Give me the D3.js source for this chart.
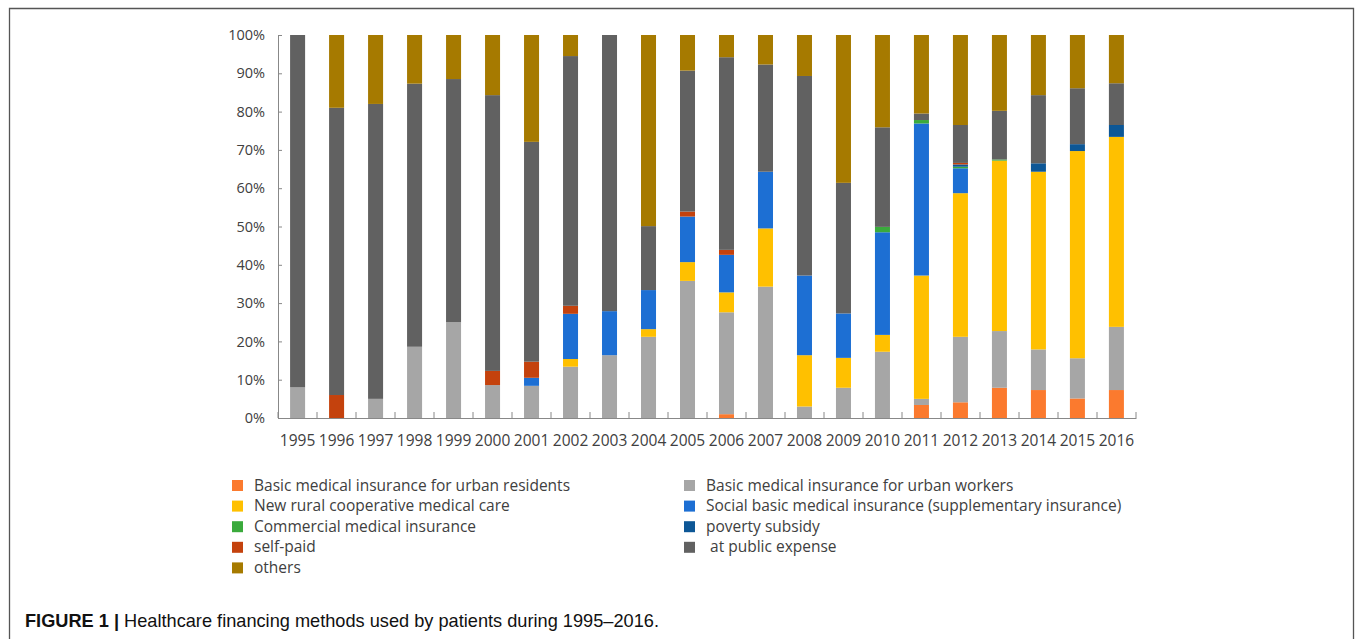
<!DOCTYPE html>
<html>
<head>
<meta charset="utf-8">
<script src="https://cdn.jsdelivr.net/npm/d3@7"></script>
<style>
  body { margin: 0; background: #fff; }
  svg { display: block; }
  .tick text { fill: #404040; }
</style>
</head>
<body>
<script>
// years along the x axis
var years = ["1995","1996","1997","1998","1999","2000","2001","2002","2003","2004","2005",
             "2006","2007","2008","2009","2010","2011","2012","2013","2014","2015","2016"];

// share of patients (%) per financing method, one value per year
var urbanResidents = [0,0,0,0,0,0,0,0,0,0,0, 1.0,0,0,0,0, 3.4,4.1,7.9,7.3,5.1,7.3];
var urbanWorkers   = [8,0,5,18.6,25,8.6,8.4,13.4,16.4,21.2,35.8, 26.6,34.3,3.0,7.9,17.3, 1.6,17.1,14.8,10.6,10.5,16.5];
var newRural       = [0,0,0,0,0,0,0,2.0,0,2.0,4.9, 5.2,15.2,13.4,7.8,4.4, 32.2,37.5,44.5,46.4,54.1,49.6];
var socialBasic    = [0,0,0,0,0,0,2.1,11.8,11.5,10.2,11.9, 9.8,14.8,20.8,11.6,26.8, 39.7,6.5,0,0,0,0];
var commercial     = [0,0,0,0,0,0,0,0,0,0,0, 0,0,0,0,1.4, 0.9,0.4,0.3,0,0,0];
var povertySubsidy = [0,0,0,0,0,0,0,0,0,0,0, 0,0,0,0,0, 0,0.6,0,2.2,1.8,3.1];
var selfPaid       = [0,6,0,0,0,3.7,4.2,2.1,0,0,1.3, 1.3,0,0,0,0, 0,0.4,0,0,0,0];
var publicExpense  = [92,75,77,68.7,63.5,72,57.4,65.2,72.1,16.7,36.8, 50.3,28.0,52.1,34.1,26.0, 1.7,9.9,12.7,17.8,14.6,10.9];
var others         = [0,19,18,12.7,11.5,15.7,27.9,5.5,0,49.9,9.3, 5.8,7.7,10.7,38.6,24.1, 20.5,23.5,19.8,15.7,13.9,12.6];

var seriesNames = ["Basic medical insurance for urban residents",
                   "Basic medical insurance for urban workers",
                   "New rural cooperative medical care",
                   "Social basic medical insurance (supplementary insurance)",
                   "Commercial medical insurance",
                   "poverty subsidy",
                   "self-paid",
                   " at public expense",
                   "others"];
var seriesValues = [urbanResidents, urbanWorkers, newRural, socialBasic, commercial,
                    povertySubsidy, selfPaid, publicExpense, others];
var seriesColors = ["#FB7A2E","#A6A6A6","#FFC000","#1D6FD3","#3AAA3C",
                    "#0D5796","#C4420D","#616161","#A67A00"];

var yTicks = [0,10,20,30,40,50,60,70,80,90,100];

// build rows for d3.stack
var rows = years.map(function(y, i){
	var r = {year: y};
	seriesNames.forEach(function(n, k){ r[n] = seriesValues[k][i]; });
	return r;
});

var width = 1357, height = 639;
var svg = d3.select("body").append("svg")
	.attr("width", width)
	.attr("height", height);

// figure frame (open at the bottom)
svg.append("path")
	.attr("d", "M9.5,650 V8.5 H1353.5 V650")
	.attr("fill", "none")
	.attr("stroke", "#555")
	.attr("stroke-width", 1.3);

var x = d3.scaleBand()
	.domain(years)
	.range([278, 1136])
	.paddingInner(0.615)
	.paddingOuter(0.31);

var y = d3.scaleLinear()
	.domain([0, 100])
	.range([418, 35]);

var stack = d3.stack().keys(seriesNames);
var layers = stack(rows);

var color = d3.scaleOrdinal().domain(seriesNames).range(seriesColors);

svg.selectAll(".layer")
	.data(layers)
	.enter()
	.append("g")
	.attr("class", "layer")
	.attr("fill", function(d){ return color(d.key); })
	.selectAll("rect")
	.data(function(d){ return d; })
	.enter()
	.append("rect")
	.attr("x", function(d){ return x(d.data.year); })
	.attr("width", x.bandwidth())
	.attr("y", function(d){ return y(d[1]); })
	.attr("height", function(d){ return y(d[0]) - y(d[1]); });

// y axis
var yAxis = svg.append("g")
	.attr("transform", "translate(278,0)")
	.call(d3.axisLeft(y)
		.tickValues(yTicks)
		.tickSize(-4)
		.tickPadding(13)
		.tickFormat(function(d){ return d + "%"; }));
yAxis.selectAll("text")
	.style("font-family", "'Open Sans', sans-serif")
	.style("font-size", "14.5px");

// x axis, ticks between categories
var xAxis = svg.append("g")
	.attr("transform", "translate(0,418)");
xAxis.call(d3.axisBottom(x).tickSize(0).tickPadding(17));
xAxis.selectAll("text")
	.style("font-family", "'Open Sans', sans-serif")
	.style("font-size", "15.5px");
var bounds = d3.range(years.length + 1).map(function(i){ return 278 + i * (1136 - 278) / years.length; });
xAxis.selectAll(".sep")
	.data(bounds)
	.enter()
	.append("line")
	.attr("class", "sep")
	.attr("x1", function(d){ return d; })
	.attr("x2", function(d){ return d; })
	.attr("y1", 0)
	.attr("y2", -6)
	.attr("stroke", "#888");
svg.selectAll(".domain").attr("stroke", "#888");
svg.selectAll(".tick line").attr("stroke", "#888");

// legend in two columns
var legend = svg.append("g")
	.style("font-family", "'Open Sans', sans-serif")
	.style("font-size", "15.5px")
	.attr("fill", "#404040");
var item = legend.selectAll(".item")
	.data(seriesNames)
	.enter()
	.append("g")
	.attr("class", "item")
	.attr("transform", function(d, i){
		var col = i % 2, row = Math.floor(i / 2);
		return "translate(" + (col ? 684 : 232) + "," + (480 + row * 20.6) + ")";
	});
item.append("rect")
	.attr("width", 11)
	.attr("height", 11)
	.attr("fill", function(d){ return color(d); });
item.append("text")
	.attr("x", 22)
	.attr("y", 10.5)
	.style("white-space", "pre")
	.text(function(d){ return d; });

// caption
var cap = svg.append("text")
	.attr("x", 25)
	.attr("y", 627)
	.style("font-family", "'Liberation Sans', Arial, sans-serif")
	.style("font-size", "18.2px")
	.attr("fill", "#111");
cap.append("tspan").style("font-weight", "bold").text("FIGURE 1 | ");
cap.append("tspan").text("Healthcare financing methods used by patients during 1995\u20132016.");
</script>
</body>
</html>
